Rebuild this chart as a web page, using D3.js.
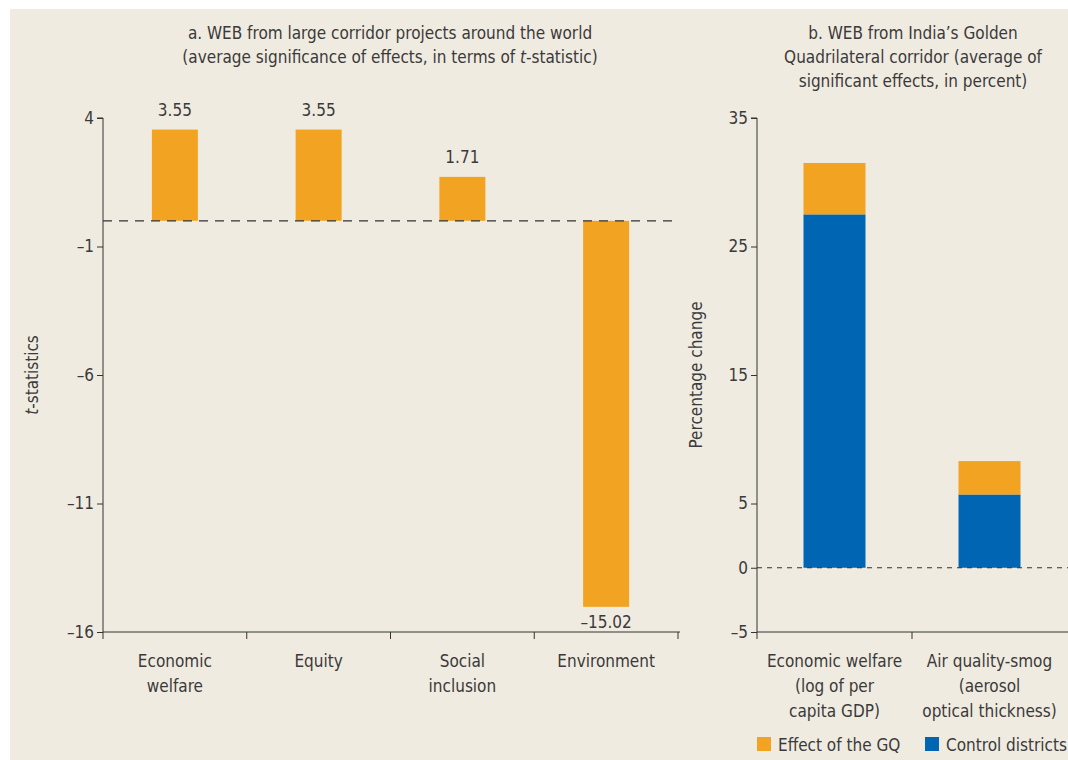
<!DOCTYPE html>
<html>
<head>
<meta charset="utf-8">
<script src="https://cdn.jsdelivr.net/npm/d3@7"></script>
<style>
  body { margin: 0; background: #fff; }
  svg text { font-family: "Liberation Sans Narrow", "DejaVu Sans Condensed", Roboto, sans-serif; fill: #3a3a3a; }
</style>
</head>
<body>
<svg id="chart" width="1068" height="760"></svg>
<script>
// Panel a data
const catsA = ["Economic welfare", "Equity", "Social inclusion", "Environment"];
const catLinesA = [["Economic", "welfare"], ["Equity"], ["Social", "inclusion"], ["Environment"]];
const tStats = [3.55, 3.55, 1.71, -15.02];
const ticksA = [4, -1, -6, -11, -16];

// Panel b data
const catsB = ["Economic welfare", "Air quality-smog"];
const catLinesB = [["Economic welfare", "(log of per", "capita GDP)"], ["Air quality-smog", "(aerosol", "optical thickness)"]];
const controlVals = [27.5, 5.7];
const gqVals = [4.0, 2.6];
const ticksB = [35, 25, 15, 5, 0, -5];

const orange = "#f2a322";
const blue = "#0066b3";
const fs = 17;

const svg = d3.select("#chart");
svg.append("rect").attr("x", 10).attr("y", 9).attr("width", 1058).attr("height", 751).attr("fill", "#f0ebe1");

// ---------- Panel a ----------
const xA = d3.scaleBand().domain(catsA).range([103, 678]).paddingInner(0.68).paddingOuter(0.34);
const yA = d3.scaleLinear().domain([-16, 4]).range([632, 118]);

const gA = svg.append("g");
gA.append("g")
    .attr("transform", "translate(103,0)")
    .call(d3.axisLeft(yA).tickValues(ticksA).tickSize(6).tickFormat(d => d < 0 ? "\u2013" + Math.abs(d) : d))
    .call(g => g.select(".domain").attr("d", "M-6,118H0V632"));

// x axis with ticks at band boundaries
const bwA = (678 - 103) / catsA.length;
const gxA = gA.append("g");
gxA.append("line").attr("x1", 103).attr("x2", 680).attr("y1", 632).attr("y2", 632).attr("stroke", "#333");
d3.range(catsA.length + 1).forEach(i => {
  gxA.append("line").attr("x1", 103 + i * bwA).attr("x2", 103 + i * bwA)
    .attr("y1", 632).attr("y2", 639).attr("stroke", "#333");
});

gA.selectAll(".bar").data(tStats).enter().append("rect")
    .attr("x", (d, i) => xA(catsA[i]))
    .attr("width", xA.bandwidth())
    .attr("y", d => yA(Math.max(0, d)))
    .attr("height", d => Math.abs(yA(d) - yA(0)))
    .attr("fill", orange);

gA.append("line").attr("x1", 103).attr("x2", 678).attr("y1", yA(0)).attr("y2", yA(0))
    .attr("stroke", "#333").attr("stroke-width", 1.2).attr("stroke-dasharray", "9,7");

gA.selectAll(".val").data(tStats).enter().append("text")
    .attr("x", (d, i) => xA(catsA[i]) + xA.bandwidth() / 2)
    .attr("y", d => d >= 0 ? yA(d) - 14 : yA(d) + 21)
    .attr("text-anchor", "middle").attr("font-size", fs)
    .text(d => d < 0 ? "\u2013" + Math.abs(d).toFixed(2) : d.toFixed(2));

catLinesA.forEach((lines, i) => {
  const t = gA.append("text").attr("text-anchor", "middle").attr("font-size", fs)
    .attr("x", xA(catsA[i]) + xA.bandwidth() / 2).attr("y", 667);
  lines.forEach((l, j) => t.append("tspan").attr("x", xA(catsA[i]) + xA.bandwidth() / 2).attr("dy", j ? 25 : 0).text(l));
});

const titleA = gA.append("text").attr("text-anchor", "middle").attr("font-size", fs).attr("x", 390).attr("y", 39);
titleA.append("tspan").attr("x", 390).text("a. WEB from large corridor projects around the world");
const ta2 = titleA.append("tspan").attr("x", 390).attr("dy", 24);
ta2.append("tspan").text("(average significance of effects, in terms of ");
ta2.append("tspan").attr("font-style", "italic").text("t");
ta2.append("tspan").text("-statistic)");

const ylA = gA.append("text").attr("font-size", fs).attr("text-anchor", "middle")
    .attr("transform", "translate(38,375) rotate(-90)");
ylA.append("tspan").attr("font-style", "italic").text("t");
ylA.append("tspan").text("-statistics");

// ---------- Panel b ----------
const xB = d3.scaleBand().domain(catsB).range([757, 1067]).paddingInner(0.6).paddingOuter(0.3);
const yB = d3.scaleLinear().domain([-5, 35]).range([632, 118]);

const gB = svg.append("g");
gB.append("g")
    .attr("transform", "translate(757,0)")
    .call(d3.axisLeft(yB).tickValues(ticksB).tickSize(6).tickFormat(d => d < 0 ? "\u2013" + Math.abs(d) : d))
    .call(g => g.select(".domain").attr("d", "M-6,118H0V632"));

const bwB = (1067 - 757) / catsB.length;
gB.append("line").attr("x1", 757).attr("x2", 1068).attr("y1", 632).attr("y2", 632).attr("stroke", "#333");
d3.range(catsB.length).forEach(i => {
  gB.append("line").attr("x1", 757 + i * bwB).attr("x2", 757 + i * bwB)
    .attr("y1", 632).attr("y2", 639).attr("stroke", "#333");
});

const stackData = catsB.map((c, i) => ({ cat: c, control: controlVals[i], gq: gqVals[i] }));
const series = d3.stack().keys(["control", "gq"])(stackData);
const colorB = d3.scaleOrdinal().domain(["control", "gq"]).range([blue, orange]);

gB.selectAll(".layer").data(series).enter().append("g")
    .attr("fill", d => colorB(d.key))
    .selectAll("rect").data(d => d).enter().append("rect")
    .attr("x", d => xB(d.data.cat))
    .attr("width", xB.bandwidth())
    .attr("y", d => yB(d[1]))
    .attr("height", d => yB(d[0]) - yB(d[1]));

gB.append("line").attr("x1", 757).attr("x2", 1068).attr("y1", yB(0)).attr("y2", yB(0))
    .attr("stroke", "#333").attr("stroke-width", 1.2).attr("stroke-dasharray", "5,5");

catLinesB.forEach((lines, i) => {
  const cx = xB(catsB[i]) + xB.bandwidth() / 2;
  const t = gB.append("text").attr("text-anchor", "middle").attr("font-size", fs).attr("x", cx).attr("y", 667);
  lines.forEach((l, j) => t.append("tspan").attr("x", cx).attr("dy", j ? 25 : 0).text(l));
});

const titleB = gB.append("text").attr("text-anchor", "middle").attr("font-size", fs).attr("x", 913).attr("y", 39);
["b. WEB from India\u2019s Golden", "Quadrilateral corridor (average of", "significant effects, in percent)"]
  .forEach((l, j) => titleB.append("tspan").attr("x", 913).attr("dy", j ? 24 : 0).text(l));

gB.append("text").attr("font-size", fs).attr("text-anchor", "middle")
    .attr("transform", "translate(702,375) rotate(-90)").text("Percentage change");

// legend
const legendItems = [["Effect of the GQ", orange, 757], ["Control districts", blue, 925]];
legendItems.forEach(([label, col, x]) => {
  gB.append("rect").attr("x", x).attr("y", 737).attr("width", 14).attr("height", 14).attr("fill", col);
  gB.append("text").attr("x", x + 21).attr("y", 751).attr("font-size", fs).text(label);
});

svg.selectAll(".tick text").attr("font-size", fs).attr("fill", "#3a3a3a").attr("font-family", null);
svg.selectAll(".tick line, .domain").attr("stroke", "#333");
</script>
</body>
</html>
